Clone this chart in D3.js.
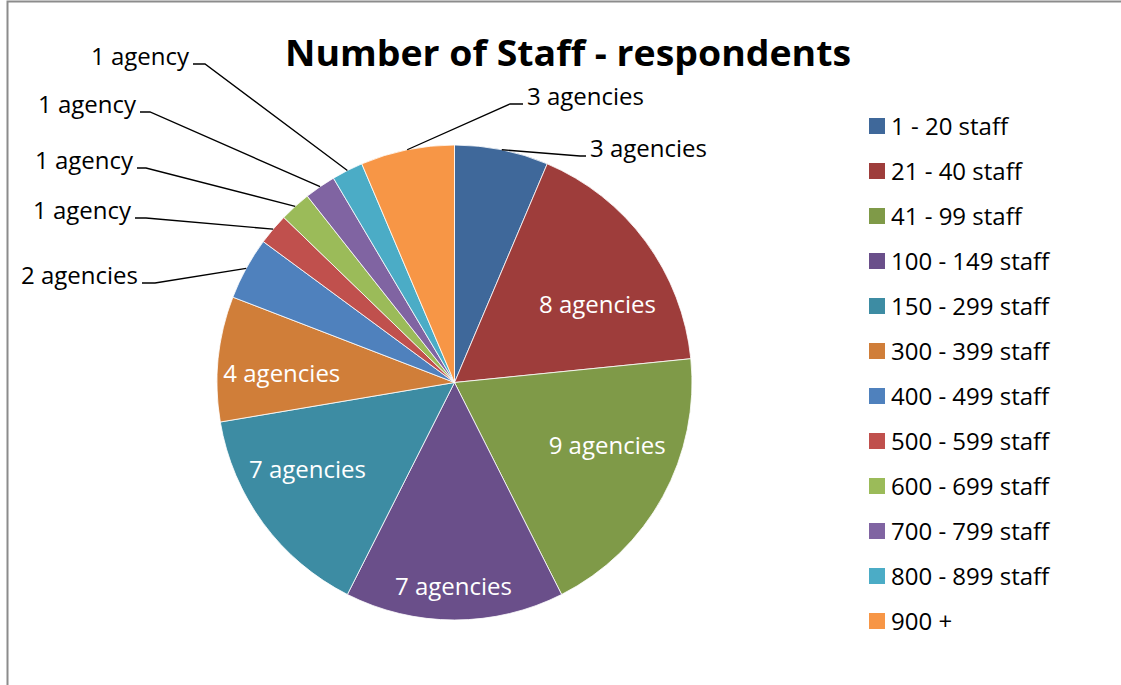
<!DOCTYPE html>
<html>
<head>
<meta charset="utf-8">
<script src="https://cdn.jsdelivr.net/npm/d3@7"></script>
<style>
  html, body { margin: 0; padding: 0; background: #fff; overflow: hidden; }
  svg text { font-family: "Open Sans", "Noto Sans", sans-serif; }
</style>
</head>
<body>
<svg id="chart" width="1121" height="685"></svg>
<script>
// Staff-size bands of responding agencies and how many agencies fall in each
const categories = [
  "1 - 20 staff", "21 - 40 staff", "41 - 99 staff", "100 - 149 staff",
  "150 - 299 staff", "300 - 399 staff", "400 - 499 staff", "500 - 599 staff",
  "600 - 699 staff", "700 - 799 staff", "800 - 899 staff", "900 +"
];
const agencies = [3, 8, 9, 7, 7, 4, 2, 1, 1, 1, 1, 3];
const sliceColors = [
  "#3f689a", "#9e3d3b", "#7f9a48", "#6a4f8a", "#3d8ca3", "#d07e39",
  "#4f81bd", "#c0504d", "#9bbb59", "#8064a2", "#4bacc6", "#f79646"
];
const chartTitle = "Number of Staff - respondents";

// Label placement: inside labels are nudged from the slice centroid,
// outside labels get a leader line ending at a short horizontal tick.
const labelLayout = [
  { out: true, elbow: [580, 156], end: [586, 156], side: "right" },
  { out: false, dx: 13, dy: 18 },
  { out: false, dx: 11, dy: -15 },
  { out: false, dx: -1, dy: 42 },
  { out: false, dx: -17, dy: -9 },
  { out: false, dx: -12, dy: 7 },
  { out: true, elbow: [155, 283], end: [142, 283], side: "left" },
  { out: true, elbow: [146, 218], end: [135, 218], side: "left" },
  { out: true, elbow: [146, 168], end: [137, 168], side: "left" },
  { out: true, elbow: [150, 112], end: [140, 112], side: "left" },
  { out: true, elbow: [205, 64], end: [193, 64], side: "left" },
  { out: true, elbow: [510, 104], end: [523, 104], side: "right" }
];

const svg = d3.select("#chart");
const W = 1121, H = 685;
const cx = 454.5, cy = 382.5, r = 237.5;
const fontSize = 24;

// chart frame
svg.append("rect")
  .attr("x", 7.5).attr("y", 1.5)
  .attr("width", W + 20).attr("height", H + 20)
  .attr("fill", "#fff")
  .attr("stroke", "#8c8c8c").attr("stroke-width", 2);

// title
svg.append("text")
  .attr("x", 568).attr("y", 66)
  .attr("text-anchor", "middle")
  .attr("font-size", 35).attr("font-weight", 700)
  .attr("textLength", 566).attr("lengthAdjust", "spacingAndGlyphs")
  .attr("fill", "#000")
  .text(chartTitle);

const pie = d3.pie().sort(null).value(d => d)(agencies);
const arc = d3.arc().innerRadius(0).outerRadius(r);
const labelArc = d3.arc().innerRadius(r * 0.68).outerRadius(r * 0.68);

const g = svg.append("g").attr("transform", `translate(${cx},${cy})`);
g.selectAll("path.slice")
  .data(pie)
  .join("path")
  .attr("class", "slice")
  .attr("d", arc)
  .attr("fill", (d, i) => sliceColors[i])
  .attr("stroke", "#fff")
  .attr("stroke-width", 0.8);

const labelText = v => v === 1 ? "1 agency" : `${v} agencies`;

pie.forEach((d, i) => {
  const L = labelLayout[i];
  if (!L.out) {
    const [x, y] = labelArc.centroid(d);
    g.append("text")
      .attr("x", x + L.dx).attr("y", y + L.dy + 8.5)
      .attr("text-anchor", "middle")
      .attr("font-size", fontSize)
      .attr("fill", "#fff")
      .text(labelText(d.value));
  } else {
    const mid = (d.startAngle + d.endAngle) / 2;
    const px = cx + r * Math.sin(mid), py = cy - r * Math.cos(mid);
    svg.append("polyline")
      .attr("points", [[px, py], L.elbow, L.end].map(p => p.join(",")).join(" "))
      .attr("fill", "none")
      .attr("stroke", "#000")
      .attr("stroke-width", 1.3);
    const right = L.side === "right";
    svg.append("text")
      .attr("x", L.end[0] + (right ? 4 : -4))
      .attr("y", L.end[1] + 1)
      .attr("text-anchor", right ? "start" : "end")
      .attr("font-size", fontSize)
      .attr("fill", "#000")
      .text(labelText(d.value));
  }
});

// legend
const legendY = d3.scalePoint().domain(categories).range([126, 621]);
const legend = svg.append("g");
categories.forEach((c, i) => {
  const y = legendY(c);
  legend.append("rect")
    .attr("x", 869).attr("y", y - 8)
    .attr("width", 16).attr("height", 16)
    .attr("fill", sliceColors[i]);
  legend.append("text")
    .attr("x", 891).attr("y", y + 8.5)
    .attr("font-size", fontSize)
    .attr("fill", "#000")
    .text(c);
});
</script>
</body>
</html>
